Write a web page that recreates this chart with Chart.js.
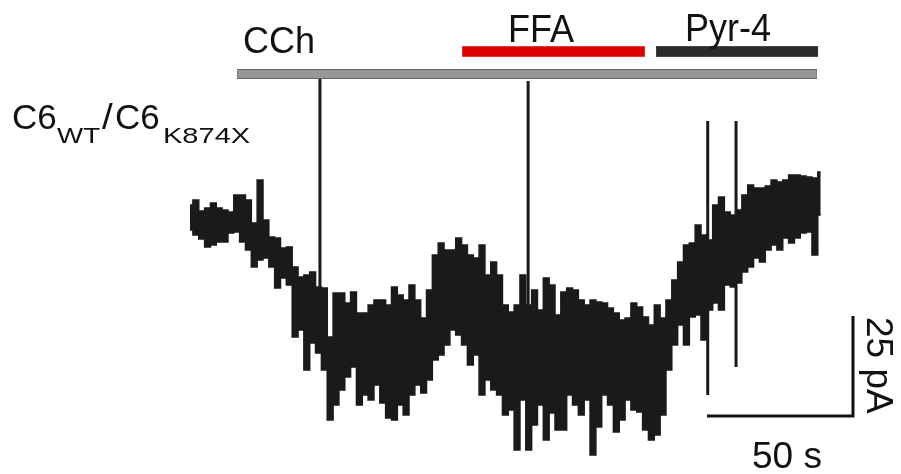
<!DOCTYPE html>
<html><head><meta charset="utf-8">
<script src="https://cdn.jsdelivr.net/npm/chart.js@4"></script>
<style>html,body{margin:0;padding:0;background:#fff;overflow:hidden}canvas{display:block}</style>
</head><body>
<canvas id="c" width="901" height="474"></canvas>
<script>
// ---- data (time in s, current in pA) ----
const sampleStep = 2; // s between envelope samples
const traceTop = [52.75,54,51.25,52,53.25,52,51.5,51,55.25,55.25,
54,48.25,59,49,44.75,44.5,42,42.25,37.25,34.75,
35.25,36,32.25,32,19.75,30.75,30.75,28.25,31,25.75,
25.75,27.75,29,29,27.75,32.25,30.25,29,32.75,29,
24.5,31.5,40.25,43.25,41.5,41.5,44.5,42.75,40.25,39.5,
42.75,35.25,38.5,35.25,27.75,26,27.75,35.25,27.75,31.5,
26.5,34.5,32.75,25.25,31,32,31.5,29,27.75,29,
28.5,28.25,27,25.75,24,24.5,28.25,27.25,24.75,22.75,
27.75,24.5,29,34,38.5,42.75,43.25,47.75,45.25,44,
52.75,54.75,51,50.25,51.5,55.25,57.75,57,57,57.5,
59,58.5,59,60.25,60.25,60,59.75,59.5,61];
const traceBottom = [46.5,45.25,44.25,42.25,42.75,43.5,43.5,45.75,46,43.5,
41.5,37.25,39,39.5,37.25,32,34.5,32.75,19.75,21.5,
11.5,18.25,15.75,11.5,-1,2.75,6.5,9.75,12.25,2.75,
5.25,4,7.75,3.25,-0.5,-1,2.75,0.25,5.25,7.75,
5.75,9,14,15.25,17.75,21.5,20.25,17.75,12.75,15.25,
5.25,9,6.5,5.25,0.25,1.5,-8.5,4,-8.5,-2.25,
2.75,-6,0.75,-3.5,-3.5,5.25,2.75,0.25,4,-9.75,
-2.75,5.25,2.75,-4,-1,4,1.5,1,-3.5,-6,
-4.75,0.25,11.5,17.75,22.75,17.75,24.75,25.25,19,26.5,
28.25,26.5,32.75,32.25,33.25,36,37.25,39.5,38.5,41.5,
42.75,41.5,44.5,43.25,44.5,45.75,46,40.25,50.25];
const spikeTimes = [44.5, 115.8, 177.3, 187.0];
const spikeTop = [84.25, 83.75, 73.75, 73.75];
const spikeBottom = [30, 25, 5.25, 12.25];
const drugNames = ['CCh', 'FFA', 'Pyr-4'];
const drugStart = [16.1, 93.2, 159.6];
const drugEnd = [214.7, 155.8, 215.1];
const scaleBarTime = 50;    // s
const scaleBarCurrent = 25; // pA
const cellLabel = ['C6', 'WT', '/', 'C6', 'K874X'];

// ---- layout / style ----
const FONT = '"Liberation Sans", Arial, Helvetica, sans-serif';
const traceColor = '#1c1a19';
const barLevel = [85.5, 91.1, 91.1];
const barThick = [10, 11, 11];
const barFill = ['#979797', '#dc0000', '#2b2b2b'];
const barEdge = ['#666666', '#e03a3a', '#4a4a4a'];
const scaleOrigin = {t: 177.05, i: 0};

const datasets = [];
// drug application bars
drugNames.forEach((n, i) => {
  datasets.push({data: [{x: drugStart[i], y: barLevel[i]}, {x: drugEnd[i], y: barLevel[i]}],
    borderColor: barEdge[i], borderWidth: barThick[i], borderCapStyle: 'butt', pointRadius: 0, fill: false, order: 2});
  datasets.push({data: [{x: drugStart[i] + 0.15, y: barLevel[i]}, {x: drugEnd[i] - 0.15, y: barLevel[i]}],
    borderColor: barFill[i], borderWidth: barThick[i] - 2, borderCapStyle: 'butt', pointRadius: 0, fill: false, order: 1});
});
// spikes
const spikeData = [];
spikeTimes.forEach((t, i) => { spikeData.push({x: t, y: spikeBottom[i]}, {x: t, y: spikeTop[i]}, {x: t, y: null}); });
datasets.push({data: spikeData, borderColor: traceColor, borderWidth: 3, pointRadius: 0, spanGaps: false, fill: false, borderCapStyle: 'butt', order: 3});
// trace envelope
datasets.push({data: traceTop.map((v, k) => ({x: k * sampleStep, y: v})), stepped: 'middle',
  borderColor: traceColor, borderWidth: 1.5, pointRadius: 0, fill: '+1', backgroundColor: traceColor, order: 4});
datasets.push({data: traceBottom.map((v, k) => ({x: k * sampleStep, y: v})), stepped: 'middle',
  borderColor: traceColor, borderWidth: 1.5, pointRadius: 0, fill: false, order: 5});
// scale bars
datasets.push({data: [{x: scaleOrigin.t, y: scaleOrigin.i}, {x: scaleOrigin.t + scaleBarTime, y: scaleOrigin.i},
  {x: scaleOrigin.t + scaleBarTime, y: scaleOrigin.i + scaleBarCurrent}],
  borderColor: '#111', borderWidth: 3, borderJoinStyle: 'miter', borderCapStyle: 'butt', pointRadius: 0, fill: false, order: 0});

const textPlugin = {
  id: 'texts',
  afterDraw(chart) {
    const ctx = chart.ctx;
    const put = (s, x, y, size, sx = 1, sy = 1, rot = 0) => {
      ctx.save(); ctx.translate(x, y); ctx.rotate(rot); ctx.scale(sx, sy);
      ctx.font = size + 'px ' + FONT; ctx.fillStyle = '#111'; ctx.textBaseline = 'alphabetic';
      ctx.fillText(s, 0, 0); ctx.restore();
    };
    put(drugNames[0], 243, 53, 36);
    put(drugNames[1], 508, 42, 36, 1, 1.1);
    put(drugNames[2], 685, 41, 36, 1, 1.08);
    put(cellLabel[0], 12, 129, 35);
    put(cellLabel[1], 57, 143, 22, 1.26);
    put(cellLabel[2], 102, 129, 35, 1.1);
    put(cellLabel[3], 115, 129, 35);
    put(cellLabel[4], 163, 143, 22, 1.32);
    put(scaleBarTime + ' s', 752, 468, 37);
    put(scaleBarCurrent + ' pA', 867, 317, 37, 1, 1, Math.PI / 2);
  }
};

new Chart(document.getElementById('c'), {
  type: 'line',
  data: {datasets},
  options: {
    responsive: false, animation: false, devicePixelRatio: 1, events: [],
    layout: {padding: 0},
    plugins: {legend: {display: false}, tooltip: {enabled: false}},
    scales: {
      x: {type: 'linear', display: false, min: -65.068, max: 243.494},
      y: {type: 'linear', display: false, min: -14.5, max: 104}
    }
  },
  plugins: [textPlugin]
});
</script>
</body></html>
